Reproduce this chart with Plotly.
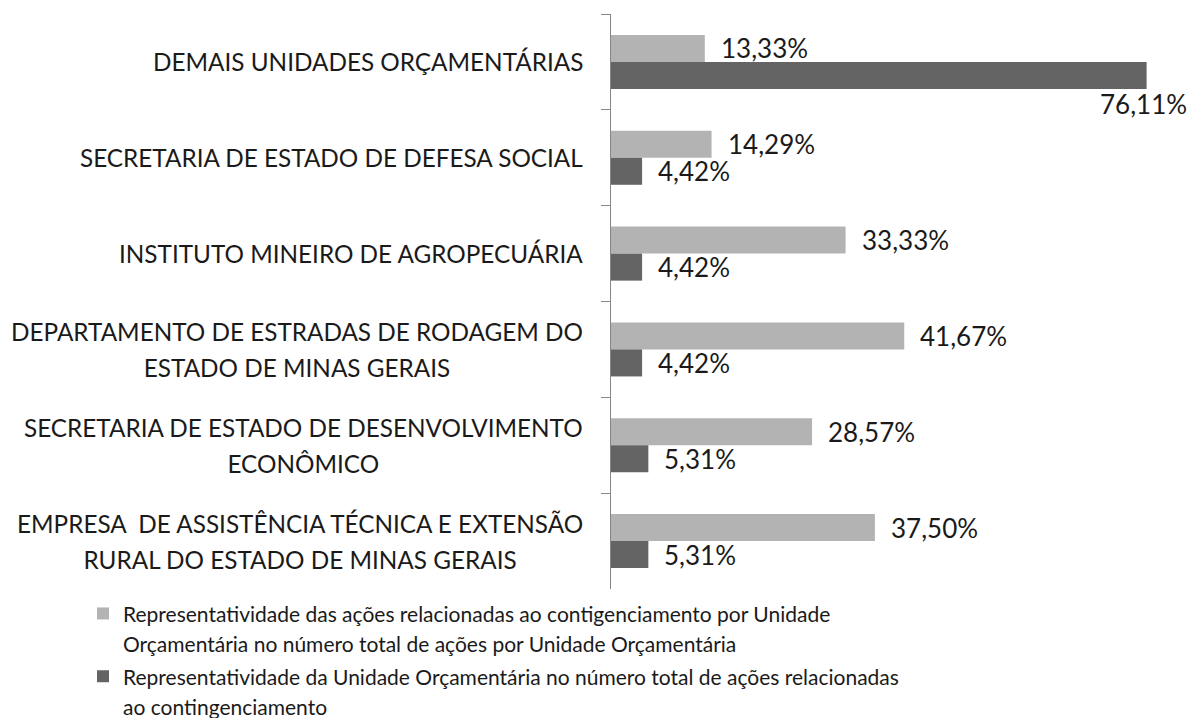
import plotly.graph_objects as go

# ---------------- data ----------------
categories = [
    "DEMAIS UNIDADES ORÇAMENTÁRIAS",
    "SECRETARIA DE ESTADO DE DEFESA SOCIAL",
    "INSTITUTO MINEIRO DE AGROPECUÁRIA",
    "DEPARTAMENTO DE ESTRADAS DE RODAGEM DO ESTADO DE MINAS GERAIS",
    "SECRETARIA DE ESTADO DE DESENVOLVIMENTO ECONÔMICO",
    "EMPRESA  DE ASSISTÊNCIA TÉCNICA E EXTENSÃO RURAL DO ESTADO DE MINAS GERAIS",
]
category_lines = [
    ["DEMAIS UNIDADES ORÇAMENTÁRIAS"],
    ["SECRETARIA DE ESTADO DE DEFESA SOCIAL"],
    ["INSTITUTO MINEIRO DE AGROPECUÁRIA"],
    ["DEPARTAMENTO DE ESTRADAS DE RODAGEM DO", "ESTADO DE MINAS GERAIS"],
    ["SECRETARIA DE ESTADO DE DESENVOLVIMENTO", "ECONÔMICO"],
    ["EMPRESA  DE ASSISTÊNCIA TÉCNICA E EXTENSÃO", "RURAL DO ESTADO DE MINAS GERAIS"],
]
share_of_unit = [13.33, 14.29, 33.33, 41.67, 28.57, 37.50]
share_of_total = [76.11, 4.42, 4.42, 4.42, 5.31, 5.31]
series_lines = [
    ["Representatividade das ações relacionadas ao contigenciamento por Unidade",
     "Orçamentária no número total de ações por Unidade Orçamentária"],
    ["Representatividade da Unidade Orçamentária no número total de ações relacionadas",
     "ao contingenciamento"],
]

# ---------------- style ----------------
LIGHT = "#b3b3b3"
DARK = "#646464"
TEXT = "#1a1a1a"
FONT = "Lato"
FS_CAT = 24.3      # glyph size of category labels
CAT_LINE = 27.7    # outer size -> 1.3em line pitch of ~36 px
FS_VAL = 26
FS_LEG = 21        # glyph size of legend text
LEG_LINE = 23      # outer size -> line pitch ~30 px
X_MAX = 80
W, H = 1192, 710   # page has an 8px body margin; keep the figure inside the 1200x726 window


def fmt(v):
    return f"{v:.2f}".replace(".", ",") + "%"


def sized(lines, px):
    return "<br>".join(f"<span style='font-size:{px}px'>{ln}</span>" for ln in lines)


fig = go.Figure()
fig.add_bar(y=categories, x=share_of_unit, orientation="h",
            name=sized(series_lines[0], FS_LEG),
            marker=dict(color=LIGHT, line=dict(width=0)), hoverinfo="skip")
fig.add_bar(y=categories, x=share_of_total, orientation="h",
            name=sized(series_lines[1], FS_LEG),
            marker=dict(color=DARK, line=dict(width=0)), hoverinfo="skip")

annotations = []
# category labels (left)
for cat, lines in zip(categories, category_lines):
    annotations.append(dict(xref="paper", x=0, yref="y", y=cat, text=sized(lines, FS_CAT),
                            xanchor="right", yanchor="middle", xshift=-26,
                            align="center", showarrow=False,
                            font=dict(family=FONT, size=CAT_LINE if len(lines) > 1 else FS_CAT,
                                      color=TEXT)))
# value labels
for cat, v in zip(categories, share_of_unit):
    annotations.append(dict(x=v, y=cat, text=fmt(v), xanchor="left", yanchor="middle",
                            xshift=14, yshift=13.5, showarrow=False,
                            font=dict(family=FONT, size=FS_VAL, color=TEXT)))
for cat, v in zip(categories, share_of_total):
    if v > 0.85 * X_MAX:
        annotations.append(dict(x=v, y=cat, text=fmt(v), xanchor="center", yanchor="middle",
                                xshift=-3, yshift=-42, showarrow=False,
                                font=dict(family=FONT, size=FS_VAL, color=TEXT)))
    else:
        annotations.append(dict(x=v, y=cat, text=fmt(v), xanchor="left", yanchor="middle",
                                xshift=14, yshift=-13.5, showarrow=False,
                                font=dict(family=FONT, size=FS_VAL, color=TEXT)))

fig.update_layout(
    width=W, height=H,
    margin=dict(l=603, r=26, t=6, b=129, autoexpand=False),
    paper_bgcolor="white", plot_bgcolor="white",
    barmode="group", bargap=0.436, bargroupgap=0,
    font=dict(family=FONT, size=FS_CAT, color=TEXT),
    xaxis=dict(range=[0, X_MAX], visible=False),
    yaxis=dict(type="category", categoryorder="array", categoryarray=categories,
               range=[len(categories) - 0.5, -0.5], autorange=False,
               showline=True, linecolor="#868686", linewidth=1,
               ticks="outside", tickson="boundaries", ticklen=9, tickcolor="#868686",
               showticklabels=False, showgrid=False, zeroline=False),
    showlegend=True,
    legend=dict(xref="container", yref="container", x=75 / W, y=1 - 584 / H,
                xanchor="left", yanchor="top", valign="top", traceorder="normal",
                bgcolor="rgba(0,0,0,0)", tracegroupgap=2, itemclick=False,
                font=dict(family=FONT, size=LEG_LINE, color=TEXT)),
    annotations=annotations,
)

fig.write_html("out.html")
